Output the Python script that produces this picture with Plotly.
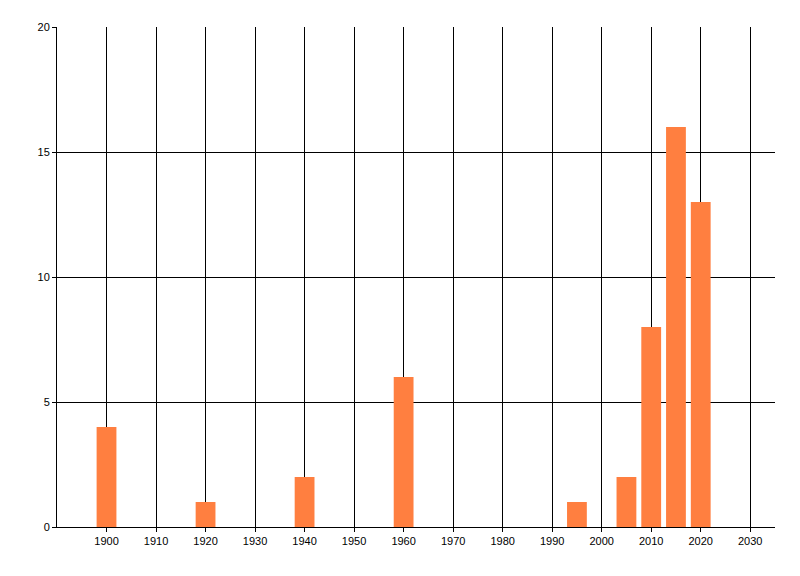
import plotly.graph_objects as go

years = [1900, 1920, 1940, 1960, 1995, 2005, 2010, 2015, 2020]
counts = [4, 1, 2, 6, 1, 2, 8, 16, 13]
x_ticks = list(range(1900, 2031, 10))
y_ticks = [0, 5, 10, 15, 20]

fig = go.Figure(go.Bar(x=years, y=counts, width=4, marker=dict(color="#FF7F40", line=dict(width=0))))

fig.update_layout(
    width=800, height=576,
    margin=dict(l=49, r=33, t=19, b=57, autoexpand=False),
    paper_bgcolor="white", plot_bgcolor="white",
    font=dict(family="Liberation Sans, Arial", size=11, color="black"),
    showlegend=False,
)
fig.update_xaxes(
    range=[1890, 2035], tickvals=x_ticks, ticktext=[str(v) for v in x_ticks],
    showgrid=True, gridcolor="black", gridwidth=1,
    showline=True, linecolor="black", linewidth=1,
    ticks="outside", ticklen=4, tickcolor="black", zeroline=False,
)
fig.update_yaxes(
    range=[0, 20], tickvals=y_ticks,
    showgrid=True, gridcolor="black", gridwidth=1,
    showline=True, linecolor="black", linewidth=1,
    ticks="outside", ticklen=4, tickcolor="black", zeroline=False,
)
fig.write_html("out.html")
